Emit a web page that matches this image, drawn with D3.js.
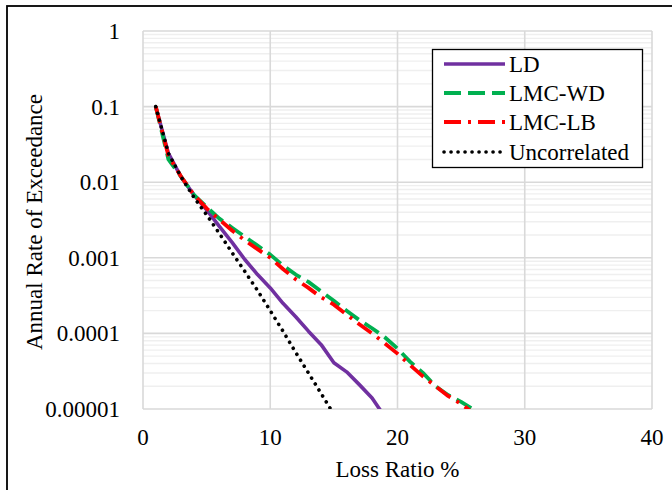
<!DOCTYPE html>
<html>
<head>
<meta charset="utf-8">
<script src="https://cdn.jsdelivr.net/npm/d3@7"></script>
<style>
  html, body { margin: 0; padding: 0; background: #fff; }
  svg { display: block; }
  text { font-family: "Liberation Serif", "Times New Roman", serif; fill: #000; }
</style>
</head>
<body>
<svg id="chart" width="672" height="490"></svg>
<script>
// Loss ratio (%) at which each exceedance rate is evaluated
const lossRatio = [1, 2, 3, 4, 5, 6, 7, 8, 9, 10, 11, 12, 13, 14, 15, 16, 17, 18, 19, 20, 21, 22, 23, 24, 25, 26, 27];

// Annual rate of exceedance per correlation model
const ldRate = [0.1, 0.024, 0.0117, 0.0068, 0.0043, 0.0026, 0.0016, 0.00095, 0.0006, 0.0004,
  0.00025, 0.000166, 0.000107, 0.000071, 0.000041, 0.000031, 0.000021, 0.000014, 0.0000079];
const lmcWdRate = [0.1, 0.02, 0.0118, 0.0068, 0.0047, 0.0033, 0.0025, 0.0019, 0.00145, 0.0011,
  0.00079, 0.0006, 0.00048, 0.00036, 0.00027, 0.0002, 0.00015, 0.000117, 0.000089, 0.000063,
  0.000042, 0.00003, 0.00002, 0.0000152, 0.0000124, 0.0000098, 0.0000074];
const lmcLbRate = [0.1, 0.0224, 0.0118, 0.0068, 0.0045, 0.0032, 0.0023, 0.0017, 0.0013, 0.001,
  0.00071, 0.00052, 0.0004, 0.0003, 0.00024, 0.000178, 0.000132, 0.0001, 0.000074, 0.000054,
  0.000038, 0.000027, 0.00002, 0.0000148, 0.0000117, 0.0000087];
const uncorrRate = [0.1, 0.024, 0.0117, 0.0063, 0.0037, 0.0021, 0.00117, 0.00066, 0.00037, 0.0002,
  0.000107, 0.000056, 0.00003, 0.000016, 0.0000085];

// Axis ticks
const xTicks = [0, 10, 20, 30, 40];
const yTicks = [1, 0.1, 0.01, 0.001, 0.0001, 0.00001];
const yTickLabels = ["1", "0.1", "0.01", "0.001", "0.0001", "0.00001"];

const seriesNames = ["LD", "LMC-WD", "LMC-LB", "Uncorrelated"];
const seriesRates = [ldRate, lmcWdRate, lmcLbRate, uncorrRate];

const styles = [
  { color: "#7030a0", width: 3.6, dash: null, cap: "butt" },
  { color: "#00b050", width: 3.8, dash: "17,7", cap: "butt" },
  { color: "#ff0000", width: 3.8, dash: "17,7,3,7", cap: "butt" },
  { color: "#000000", width: 3.6, dash: "0.1,6.9", cap: "round" }
];

const fontSize = 23;
const svg = d3.select("#chart");

// Outer chart border
svg.append("rect")
  .attr("x", 7).attr("y", 6)
  .attr("width", 700).attr("height", 520)
  .attr("fill", "none").attr("stroke", "#000").attr("stroke-width", 1.8);

const plot = { left: 143, right: 652, top: 31, bottom: 409 };

const x = d3.scaleLinear().domain([0, 40]).range([plot.left, plot.right]);
const y = d3.scaleLog().domain([0.00001, 1]).range([plot.bottom, plot.top]);

// Minor horizontal gridlines (2..9 per decade)
const minor = [];
for (let e = -5; e < 0; e++) {
  for (let m = 2; m <= 9; m++) minor.push(m * Math.pow(10, e));
}
svg.append("g").selectAll("line").data(minor).join("line")
  .attr("x1", plot.left).attr("x2", plot.right)
  .attr("y1", d => y(d)).attr("y2", d => y(d))
  .attr("stroke", "#efefef").attr("stroke-width", 1.4);

// Major gridlines
svg.append("g").selectAll("line").data(yTicks).join("line")
  .attr("x1", plot.left).attr("x2", plot.right)
  .attr("y1", d => y(d)).attr("y2", d => y(d))
  .attr("stroke", "#d9d9d9").attr("stroke-width", 1.6);
svg.append("g").selectAll("line").data(xTicks).join("line")
  .attr("x1", d => x(d)).attr("x2", d => x(d))
  .attr("y1", plot.top).attr("y2", plot.bottom)
  .attr("stroke", "#d9d9d9").attr("stroke-width", 1.6);

// Y tick labels
svg.append("g").selectAll("text").data(yTicks).join("text")
  .attr("x", 120)
  .attr("y", d => y(d) + 8)
  .attr("text-anchor", "end")
  .attr("font-size", fontSize)
  .text((d, i) => yTickLabels[i]);

// X tick labels
svg.append("g").selectAll("text").data(xTicks).join("text")
  .attr("x", d => x(d))
  .attr("y", 445)
  .attr("text-anchor", "middle")
  .attr("font-size", fontSize)
  .text(d => d);

// Axis titles
svg.append("text")
  .attr("x", (plot.left + plot.right) / 2).attr("y", 477)
  .attr("text-anchor", "middle").attr("font-size", fontSize)
  .text("Loss Ratio %");
svg.append("text")
  .attr("transform", "translate(42,222) rotate(-90)")
  .attr("text-anchor", "middle").attr("font-size", fontSize)
  .text("Annual Rate of Exceedance");

// Series lines, clipped to the plot area
svg.append("clipPath").attr("id", "plot-clip")
  .append("rect")
  .attr("x", plot.left).attr("y", plot.top - 2)
  .attr("width", plot.right - plot.left).attr("height", plot.bottom - plot.top + 2);

const line = d3.line()
  .x((d, i) => x(lossRatio[i]))
  .y(d => y(d));

const lines = svg.append("g").attr("clip-path", "url(#plot-clip)");
seriesRates.forEach((rates, k) => {
  const s = styles[k];
  lines.append("path")
    .datum(rates)
    .attr("d", line)
    .attr("fill", "none")
    .attr("stroke", s.color)
    .attr("stroke-width", s.width)
    .attr("stroke-dasharray", s.dash)
    .attr("stroke-linecap", s.cap)
    .attr("stroke-linejoin", "round");
});

// Legend
const legend = svg.append("g");
legend.append("rect")
  .attr("x", 432.5).attr("y", 49.5)
  .attr("width", 210).attr("height", 118)
  .attr("fill", "#fff").attr("stroke", "#000").attr("stroke-width", 1.3);
const legendY = [64, 93, 122, 152];
seriesNames.forEach((name, k) => {
  const s = styles[k];
  legend.append("line")
    .attr("x1", 444).attr("x2", 505)
    .attr("y1", legendY[k]).attr("y2", legendY[k])
    .attr("stroke", s.color)
    .attr("stroke-width", s.width)
    .attr("stroke-dasharray", s.dash)
    .attr("stroke-linecap", s.cap);
  legend.append("text")
    .attr("x", 509).attr("y", legendY[k] + 8)
    .attr("font-size", fontSize)
    .text(name);
});
</script>
</body>
</html>
